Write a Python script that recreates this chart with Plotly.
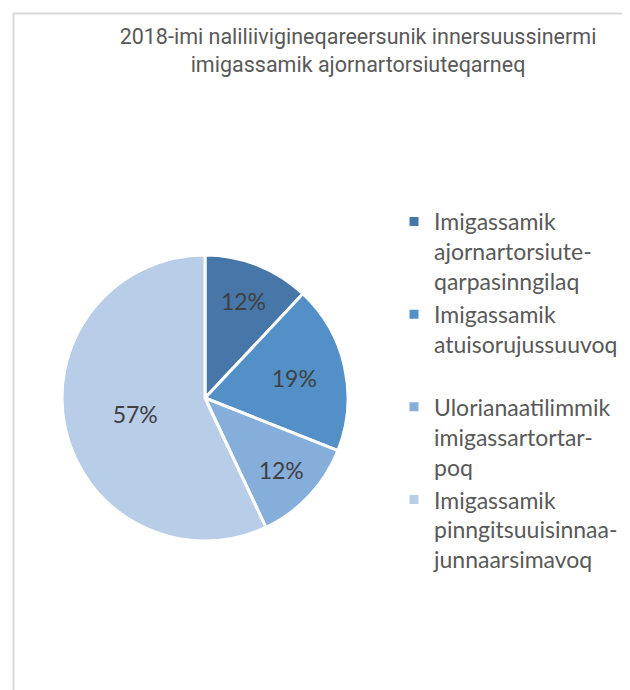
import plotly.graph_objects as go

categories = [
    "Imigassamik<br>ajornartorsiute-<br>qarpasinngilaq",
    "Imigassamik<br>atuisorujussuuvoq<br> ",
    "Ulorianaatilimmik<br>imigassartortar-<br>poq",
    "Imigassamik<br>pinngitsuuisinnaa-<br>junnaarsimavoq",
]
values = [12, 19, 12, 57]
colors = ["#4677A8", "#5390C8", "#85AEDB", "#B8CDE8"]
title_text = "2018-imi naliliivigineqareersunik innersuussinermi<br>imigassamik ajornartorsiuteqarneq"

W, H = 630, 690
cx, cy, r = 197, 390, 143

fig = go.Figure(go.Pie(
    labels=categories,
    values=values,
    sort=False,
    direction="clockwise",
    rotation=0,
    marker=dict(colors=colors, line=dict(color="white", width=3)),
    texttemplate="%{percent:.0%}",
    textposition="inside",
    insidetextorientation="horizontal",
    textfont=dict(family="Lato", size=23, color="#404040"),
    hoverinfo="label+percent",
    domain=dict(x=[(cx - r) / W, (cx + r) / W], y=[1 - (cy + r) / H, 1 - (cy - r) / H]),
))

fig.update_layout(
    width=W, height=H,
    margin=dict(l=0, r=0, t=0, b=0),
    paper_bgcolor="white",
    title=dict(
        text=title_text,
        x=350 / W, xanchor="center",
        y=1 - 36 / H, yanchor="middle",
        font=dict(family="Roboto", size=21.5, color="#595959"),
    ),
    legend=dict(
        x=386 / W, xanchor="left",
        y=1 - 192 / H, yanchor="top",
        valign="top",
        font=dict(family="Lato", size=23, color="#595959"),
        bgcolor="rgba(0,0,0,0)",
    ),
    showlegend=True,
    shapes=[dict(
        type="rect", xref="paper", yref="paper",
        x0=5.5 / W, x1=1.05, y0=-0.05, y1=1 - 5.5 / H,
        line=dict(color="#D9D9D9", width=2), fillcolor="rgba(0,0,0,0)",
    )],
)

fig.write_html("out.html")
